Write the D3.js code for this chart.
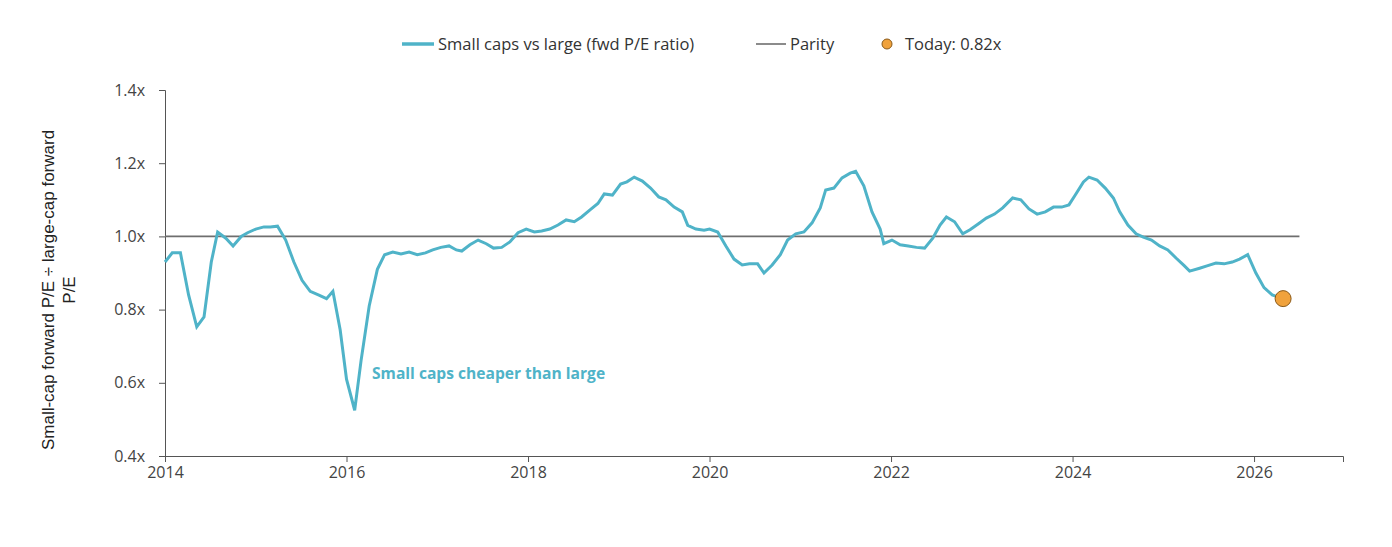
<!DOCTYPE html>
<html><head><meta charset="utf-8">
<script src="https://cdn.jsdelivr.net/npm/d3@7"></script>
<style>body{margin:0;background:#fff;font-family:"Open Sans",sans-serif}</style>
</head><body><div id="chart"></div>
<script>
// decimal year of each reading
var years = [2014.00,2014.08,2014.17,2014.26,2014.35,2014.43,2014.51,2014.58,2014.67,2014.75,2014.84,2014.91,2015.00,2015.09,2015.16,2015.24,2015.33,2015.42,2015.51,2015.60,2015.69,2015.78,2015.85,2015.93,2016.00,2016.09,2016.16,2016.25,2016.34,2016.42,2016.51,2016.60,2016.69,2016.78,2016.87,2016.95,2017.04,2017.13,2017.21,2017.27,2017.36,2017.45,2017.54,2017.62,2017.71,2017.80,2017.89,2017.98,2018.07,2018.15,2018.24,2018.33,2018.42,2018.51,2018.59,2018.68,2018.77,2018.84,2018.93,2019.02,2019.09,2019.17,2019.26,2019.35,2019.44,2019.52,2019.61,2019.70,2019.76,2019.85,2019.94,2020.00,2020.09,2020.18,2020.27,2020.36,2020.44,2020.53,2020.60,2020.69,2020.78,2020.86,2020.95,2021.04,2021.13,2021.22,2021.28,2021.37,2021.46,2021.55,2021.61,2021.70,2021.79,2021.88,2021.92,2022.01,2022.10,2022.19,2022.28,2022.37,2022.46,2022.54,2022.61,2022.70,2022.79,2022.87,2022.96,2023.05,2023.14,2023.23,2023.34,2023.43,2023.52,2023.61,2023.70,2023.79,2023.88,2023.96,2024.03,2024.12,2024.18,2024.27,2024.36,2024.45,2024.52,2024.61,2024.70,2024.78,2024.87,2024.96,2025.05,2025.14,2025.23,2025.29,2025.40,2025.49,2025.58,2025.67,2025.76,2025.84,2025.93,2026.02,2026.11,2026.20];
var ratio = [0.93,0.955,0.955,0.84,0.753,0.78,0.93,1.012,0.995,0.974,1.0,1.01,1.02,1.026,1.026,1.028,0.99,0.93,0.88,0.85,0.84,0.83,0.85,0.745,0.61,0.525,0.66,0.81,0.91,0.95,0.957,0.952,0.957,0.95,0.955,0.963,0.97,0.974,0.963,0.96,0.977,0.99,0.98,0.968,0.97,0.985,1.01,1.02,1.012,1.015,1.02,1.031,1.045,1.04,1.053,1.072,1.09,1.116,1.113,1.143,1.149,1.162,1.151,1.132,1.108,1.10,1.08,1.067,1.03,1.02,1.017,1.02,1.012,0.974,0.938,0.922,0.925,0.925,0.90,0.922,0.95,0.99,1.007,1.012,1.037,1.078,1.127,1.132,1.16,1.173,1.178,1.138,1.067,1.02,0.98,0.99,0.977,0.974,0.97,0.968,0.995,1.031,1.053,1.04,1.007,1.018,1.034,1.05,1.061,1.078,1.105,1.10,1.075,1.061,1.067,1.08,1.08,1.086,1.113,1.149,1.162,1.154,1.132,1.105,1.067,1.031,1.007,0.998,0.99,0.974,0.963,0.941,0.92,0.905,0.913,0.92,0.927,0.925,0.93,0.938,0.95,0.90,0.86,0.84];
var today = {year: 2026.32, value: 0.83};
var parity = 1.0;
var xTicks = [2014,2016,2018,2020,2022,2024,2026];
var yTicks = [0.4,0.6,0.8,1.0,1.2,1.4];

var teal = "#4fb3c8", grey = "#6e6e6e", orange = "#f0a23c";
var W = 1392, H = 547;
var svg = d3.select("#chart").append("svg").attr("width", W).attr("height", H);

var x = d3.scaleLinear().domain([2014, 2026.98]).range([165, 1343]);
var y = d3.scaleLinear().domain([0.4, 1.4]).range([456, 90]);

function styleAxis(g) {
    g.selectAll("line,path").attr("stroke", "#555");
    g.selectAll("text").attr("fill", "#444").style("font-size", "16px").style("font-family", "Open Sans");
}
svg.append("g").attr("transform", "translate(165,0)")
    .call(d3.axisLeft(y).tickValues(yTicks).tickSizeOuter(0).tickSize(6).tickPadding(14)
        .tickFormat(function (d) { return d3.format(".1f")(d) + "x"; }))
    .call(styleAxis);
svg.append("g").attr("transform", "translate(0,456)")
    .call(d3.axisBottom(x).tickValues(xTicks).tickSizeOuter(0).tickSize(6).tickPadding(5).tickFormat(d3.format("d")))
    .call(styleAxis);

svg.append("line").attr("x1", x(2014)).attr("x2", x(2026.5))
    .attr("y1", y(parity)).attr("y2", y(parity)).attr("stroke", grey).attr("stroke-width", 1.6);

var pts = years.map(function (d, i) { return [d, ratio[i]]; });
pts.push([today.year, today.value]);
svg.append("path").datum(pts)
    .attr("fill", "none").attr("stroke", teal).attr("stroke-width", 3)
    .attr("d", d3.line().x(function (d) { return x(d[0]); }).y(function (d) { return y(d[1]); }));

svg.append("circle").attr("cx", x(today.year)).attr("cy", y(today.value)).attr("r", 8)
    .attr("fill", orange).attr("stroke", "#8a5a1a").attr("stroke-width", 1);

svg.append("text").attr("x", 372).attr("y", 379).attr("fill", teal)
    .style("font-size", "15.6px").style("font-weight", "bold").text("Small caps cheaper than large");

var yl = svg.append("text").attr("transform", "translate(54,290) rotate(-90)")
    .attr("text-anchor", "middle").attr("fill", "#222").style("font-size", "17px").style("font-family", "Liberation Sans");
yl.append("tspan").attr("x", 0).attr("dy", 0).text("Small-cap forward P/E ÷ large-cap forward");
yl.append("tspan").attr("x", 0).attr("dy", 21).text("P/E");

var lg = svg.append("g").style("font-size", "16.5px");
lg.append("line").attr("x1", 402).attr("x2", 434).attr("y1", 44).attr("y2", 44).attr("stroke", teal).attr("stroke-width", 3.5);
lg.append("text").attr("x", 438).attr("y", 50).attr("fill", "#333").text("Small caps vs large (fwd P/E ratio)");
lg.append("line").attr("x1", 756).attr("x2", 786).attr("y1", 44).attr("y2", 44).attr("stroke", grey).attr("stroke-width", 1.6);
lg.append("text").attr("x", 790).attr("y", 50).attr("fill", "#333").text("Parity");
lg.append("circle").attr("cx", 887).attr("cy", 44).attr("r", 5).attr("fill", orange).attr("stroke", "#8a5a1a");
lg.append("text").attr("x", 905).attr("y", 50).attr("fill", "#333").text("Today: 0.82x");
</script></body></html>
